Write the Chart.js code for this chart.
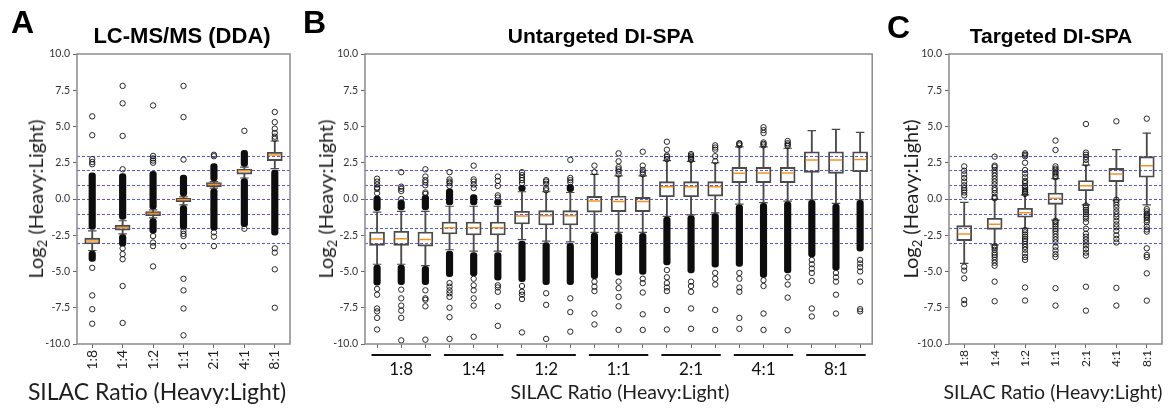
<!DOCTYPE html>
<html>
<head>
<meta charset="utf-8">
<script src="https://cdn.jsdelivr.net/npm/chart.js@4.4.1/dist/chart.umd.min.js"></script>
<style>
  body { margin:0; background:#fff; width:1175px; height:409px; position:relative; overflow:hidden; font-family: Lato, sans-serif; }
  canvas { position:absolute; top:0; }
  .txt { position:absolute; white-space:nowrap; line-height:1; }
  .letter { font: bold 32px "Liberation Sans", Arial, sans-serif; color:#000; }
  .title { font-family: "Liberation Sans", Arial, sans-serif; font-weight:bold; color:#000; transform: translateX(-50%); }
  .xtitle { transform: translateX(-50%); color:#1e1e1e; }
  .ytitle { transform: translate(-50%,-50%) rotate(-90deg); color:#1e1e1e; font-size:20px; }
  .ytitle sub { font-size:0.65em; vertical-align:-0.3em; line-height:0; }
</style>
</head>
<body>
<canvas id="chartA" width="300" height="409" style="left:0px"></canvas>
<canvas id="chartB" width="580" height="409" style="left:300px"></canvas>
<canvas id="chartC" width="295" height="409" style="left:880px"></canvas>

<div class="txt letter" style="left:11px;top:4px">A</div>
<div class="txt letter" style="left:303px;top:4px">B</div>
<div class="txt letter" style="left:887px;top:9px">C</div>

<div class="txt title" style="left:182px;top:25px;font-size:22px">LC-MS/MS (DDA)</div>
<div class="txt title" style="left:601px;top:25px;font-size:21px">Untargeted DI-SPA</div>
<div class="txt title" style="left:1051px;top:25px;font-size:21px">Targeted DI-SPA</div>

<div class="txt ytitle" style="left:35px;top:199px">Log<sub>2</sub> (Heavy:Light)</div>
<div class="txt ytitle" style="left:325px;top:199px">Log<sub>2</sub> (Heavy:Light)</div>
<div class="txt ytitle" style="left:910px;top:199px">Log<sub>2</sub> (Heavy:Light)</div>

<div class="txt xtitle" style="left:157px;top:380px;font-size:23px">SILAC Ratio (Heavy:Light)</div>
<div class="txt xtitle" style="left:620px;top:382px;font-size:19.5px">SILAC Ratio (Heavy:Light)</div>
<div class="txt xtitle" style="left:1053px;top:382px;font-size:19.5px">SILAC Ratio (Heavy:Light)</div>

<script>
// categories
const ratios = ['1:8', '1:4', '1:2', '1:1', '2:1', '4:1', '8:1'];
const replicates = ['a', 'b', 'c'];
const refLines = [3, 2, 1, 0, -1, -2, -3];

// A: LC-MS/MS (DDA)
const ddaQ1 = [-3.1, -2.15, -1.15, -0.18, 0.85, 1.72, 2.65];
const ddaMed = [-2.9, -1.98, -1.0, -0.05, 1.0, 1.95, 3.03];
const ddaQ3 = [-2.7, -1.8, -0.87, 0.05, 1.13, 2.05, 3.22];
const ddaWhiskLo = [-3.55, -2.4, -1.3, -0.4, 0.75, 1.45, 2.1];
const ddaWhiskHi = [-2.2, -1.5, -0.75, 0.15, 1.2, 2.2, 4.0];
const ddaDenseLo = [[-4.3, -3.6], [-3.25, -2.45], [-2.35, -1.35], [-2.1, -0.45], [-2.15, 0.7], [-1.9, 1.4], [-2.5, 2.0]];
const ddaDenseHi = [[-2.1, 1.8], [-1.4, 1.75], [-0.7, 1.9], [0.2, 1.65], [1.25, 2.45], [2.25, 3.35], null];
const ddaOutLo = [
  [-4.75, -6.65, -7.6, -8.6],
  [-3.4, -3.8, -4.15, -6.0, -8.55],
  [-2.55, -3.0, -3.25, -4.65],
  [-2.2, -2.4, -2.55, -3.25, -5.5, -6.3, -7.55, -9.4],
  [-2.3, -2.6, -3.25],
  [-2.05],
  [-3.4, -3.7, -4.85, -7.5]
];
const ddaOutHi = [
  [2.4, 2.55, 2.75, 4.4, 5.7],
  [2.05, 4.35, 6.6, 7.8],
  [2.5, 2.65, 2.8, 2.97, 6.45],
  [2.72, 5.65, 7.8],
  [2.95, 3.05],
  [4.7],
  [4.15, 4.3, 4.55, 4.85, 5.3, 6.0]
];

// B: Untargeted DI-SPA (3 replicates per ratio)
const untQ1 = [-3.2, -3.2, -3.25, -2.41, -2.48, -2.48, -1.72, -1.79, -1.79, -0.9, -0.87, -0.87, 0.16, 0.16, 0.2, 1.13, 1.13, 1.13, 1.84, 1.77, 1.88];
const untMed = [-2.76, -2.74, -2.8, -1.98, -1.98, -1.98, -1.17, -1.15, -1.15, -0.13, -0.18, -0.18, 0.85, 0.85, 0.85, 1.77, 1.8, 1.8, 2.69, 2.69, 2.73];
const untQ3 = [-2.28, -2.23, -2.28, -1.59, -1.59, -1.59, -0.85, -0.8, -0.8, 0.18, 0.21, 0.11, 1.2, 1.2, 1.2, 2.18, 2.18, 2.18, 3.26, 3.26, 3.26];
const untWhiskLo = [-4.5, -4.5, -4.6, -3.5, -3.6, -3.6, -2.8, -2.9, -2.95, -2.3, -2.3, -2.3, -1.2, -1.1, -0.95, -0.35, -0.25, -0.15, -0.05, -0.3, -0.05];
const untWhiskHi = [-0.9, -0.85, -0.85, -0.5, -0.5, -0.5, 0.5, 0.5, 0.45, 1.7, 1.6, 1.6, 2.65, 2.6, 2.5, 3.6, 3.6, 3.5, 4.71, 4.8, 4.6];
const untDenseLo = [[-5.95, -4.55], [-5.9, -4.55], [-5.9, -4.65], [-5.35, -3.6], [-5.3, -3.7], [-5.6, -3.7],
  [-5.7, -2.9], [-5.9, -3.0], [-5.9, -3.05], [-5.5, -2.35], [-5.25, -2.37], [-5.2, -2.37],
  [-4.55, -1.25], [-5.1, -1.15], [-4.7, -1.0], [-4.65, -0.4], [-5.4, -0.3], [-5.1, -0.2],
  [-4.0, -0.1], [-4.9, -0.35], [-3.6, -0.1]];
const untDenseHi = [[-0.8, 0.2], [-0.75, -0.1], [-0.75, 0.25], [-0.4, 0.7], [-0.4, 0.3], [-0.4, 0.0],
  [0.55, 0.95], null, [0.5, 1.0], null, null, null, null, null, null, null, null, null, null, null, null];
const untOutLo = [
  [-6.2, -6.6, -7.55, -7.75, -8.2, -9.0],
  [-6.25, -6.85, -7.35, -7.7, -8.2, -9.75],
  [-6.3, -6.85, -6.95, -7.4, -9.7],
  [-5.8, -6.05, -6.3, -6.5, -6.75, -7.5, -8.15, -9.65],
  [-5.5, -5.95, -6.3, -6.85, -7.35, -9.5],
  [-5.95, -6.1, -6.4, -7.4, -8.75],
  [-6.0, -6.4, -6.6, -6.9, -9.2],
  [-6.5, -7.3, -9.65],
  [-6.85, -7.8, -9.15],
  [-5.7, -6.05, -6.35, -7.9, -8.65],
  [-5.7, -6.15, -6.75, -7.4, -9.03],
  [-5.5, -5.8, -6.45, -7.95, -9.03],
  [-4.9, -5.4, -5.8, -6.1, -6.35, -7.65, -9.0],
  [-5.7, -6.0, -6.4, -7.55, -8.95],
  [-5.1, -5.5, -5.9, -7.65, -9.03],
  [-5.1, -5.5, -6.1, -6.4, -8.2, -8.95],
  [-5.6, -6.0, -7.9, -9.03],
  [-5.4, -5.9, -6.8, -9.05],
  [-4.2, -4.5, -4.8, -5.1, -5.65, -7.55, -8.1],
  [-5.1, -5.4, -5.7, -6.6, -7.9],
  [-4.2, -4.45, -4.7, -5.0, -5.7, -7.6, -7.75]
];
const untOutHi = [
  [0.4, 0.7, 0.8, 1.0, 1.2, 1.4],
  [0.0, 0.55, 0.7, 0.85, 1.85],
  [0.35, 0.45, 0.95, 1.15, 1.3, 1.55, 2.05],
  [0.9, 1.1, 1.2, 1.35, 1.85],
  [0.75, 1.0, 1.2, 1.35, 2.3],
  [0.1, 0.25, 0.9, 1.25, 1.55],
  [1.1, 1.3, 1.45, 1.65, 1.85],
  [0.6, 0.75, 1.05, 1.2, 1.3],
  [1.15, 1.3, 1.45, 2.7],
  [1.85, 2.3],
  [1.7, 1.9, 2.05, 2.2, 2.6, 3.15],
  [1.7, 1.85, 2.0, 2.3, 3.26],
  [2.75, 2.9, 3.0, 3.4, 3.95],
  [2.7, 2.8, 2.9, 3.0, 3.1],
  [2.6, 2.95, 3.4, 3.55, 3.7],
  [3.7, 3.8, 3.85],
  [3.7, 3.8, 3.9, 4.55, 4.75, 4.95],
  [3.65, 3.75, 3.85, 4.0],
  [], [], []
];

// C: Targeted DI-SPA
const tgtQ1 = [-2.87, -2.09, -1.26, -0.37, 0.57, 1.2, 1.5];
const tgtMed = [-2.41, -1.74, -0.94, 0.05, 0.92, 1.72, 2.3];
const tgtQ3 = [-1.84, -1.33, -0.64, 0.41, 1.27, 2.11, 2.92];
const tgtWhiskLo = [-4.44, -3.17, -2.02, -1.45, -0.41, -0.07, -0.41];
const tgtWhiskHi = [-0.23, -0.02, 0.28, 1.4, 2.34, 3.4, 4.55];
const tgtOutLo = [
  [-4.67, -4.94, -5.47, -6.97, -7.24],
  [-3.25, -3.35, -3.5, -3.7, -3.85, -4.0, -4.2, -4.4, -4.6, -5.7, -7.05],
  [-2.15, -2.3, -2.45, -2.6, -2.75, -2.9, -3.1, -3.3, -3.5, -3.75, -4.0, -4.2, -6.1, -7.0],
  [-1.5, -1.6, -1.75, -1.9, -2.05, -2.2, -2.4, -2.6, -2.8, -3.0, -3.3, -3.55, -3.8, -4.0, -6.15, -7.35],
  [-0.45, -0.6, -0.75, -0.9, -1.05, -1.2, -1.35, -1.6, -2.05, -2.4, -2.6, -2.8, -3.0, -3.2, -3.45, -3.7, -3.9, -6.05, -7.7],
  [-0.05, -0.2, -0.4, -0.6, -0.85, -1.05, -1.25, -1.5, -1.75, -1.95, -2.2, -2.5, -2.75, -3.0, -6.13, -7.35],
  [-0.7, -0.85, -1.0, -1.1, -1.2, -1.3, -1.45, -1.6, -1.9, -2.1, -2.25, -3.4, -3.86, -4.0, -5.13, -7.01]
];
const tgtOutHi = [
  [0.25, 0.45, 0.6, 0.75, 0.95, 1.2, 1.45, 1.7, 1.95, 2.25],
  [0.05, 0.15, 0.4, 0.6, 0.75, 1.0, 1.2, 1.4, 1.6, 1.8, 2.0, 2.2, 2.3, 2.92],
  [0.35, 0.45, 0.55, 0.65, 0.8, 0.9, 1.1, 1.25, 1.5, 1.75, 2.0, 2.5, 2.95, 3.05, 3.15],
  [1.5, 1.6, 1.75, 1.85, 2.0, 2.1, 2.25, 3.38, 4.03],
  [2.45, 2.7, 2.9, 3.05, 3.2, 5.17],
  [5.36],
  [5.54]
];

const lineGrey = '#4a4a4a';
const medianOrange = '#f7921e';

function boxDatasets(labels, s, boxW) {
  const pts = (arr) => labels.flatMap((l, i) => arr[i].map(v => ({ x: l, y: v })));
  const sets = [
    { type: 'bar', data: labels.map((l, i) => [s.whiskLo[i], s.q1[i]]), barThickness: 1.2,
      backgroundColor: lineGrey, grouped: false, order: 6 },
    { type: 'bar', data: labels.map((l, i) => [s.q3[i], s.whiskHi[i]]), barThickness: 1.2,
      backgroundColor: lineGrey, grouped: false, order: 6 },
    { type: 'bar', data: labels.map((l, i) => [s.q1[i], s.q3[i]]), barThickness: boxW,
      backgroundColor: 'rgba(0,0,0,0)', borderColor: lineGrey, borderWidth: 1.2,
      borderSkipped: false, grouped: false, order: 5 },
    { type: 'scatter', data: labels.flatMap((l, i) => [{ x: l, y: s.whiskLo[i] }, { x: l, y: s.whiskHi[i] }]),
      showLine: false, pointStyle: 'line', pointRadius: boxW / 4 + 0.5, pointBorderColor: lineGrey,
      pointBorderWidth: 1.2, order: 4 },
    { type: 'scatter', data: labels.map((l, i) => ({ x: l, y: s.med[i] })), showLine: false,
      pointStyle: 'line', pointRadius: boxW / 2 - 1.2, pointBorderColor: medianOrange, pointBorderWidth: 1.5, order: 3 }
  ];
  [s.denseLo, s.denseHi].forEach(d => {
    if (!d) return;
    sets.push({ type: 'bar', data: d, barThickness: 6.5, backgroundColor: '#0d0d0d',
      borderRadius: 3, borderSkipped: false, grouped: false, order: 2 });
  });
  sets.push({ type: 'scatter', data: pts(s.outLo).concat(pts(s.outHi)), showLine: false, pointStyle: 'circle',
    pointRadius: 2.7, pointBorderWidth: 0.9, pointBorderColor: '#111',
    pointBackgroundColor: 'rgba(0,0,0,0)', order: 1 });
  return sets;
}

const panelDecor = {
  id: 'panelDecor',
  beforeDatasetsDraw(chart) {
    const { ctx, chartArea: a, scales: { y } } = chart;
    ctx.save();
    ctx.strokeStyle = '#5a5ad2';
    ctx.lineWidth = 1;
    ctx.setLineDash([3, 2]);
    refLines.forEach(v => {
      const py = Math.round(y.getPixelForValue(v)) + 0.5;
      ctx.beginPath(); ctx.moveTo(a.left, py); ctx.lineTo(a.right, py); ctx.stroke();
    });
    ctx.restore();
  },
  afterDatasetsDraw(chart) {
    const { ctx, chartArea: a } = chart;
    ctx.save();
    ctx.strokeStyle = '#8a8a8a';
    ctx.lineWidth = 1.5;
    ctx.setLineDash([]);
    ctx.strokeRect(a.left, a.top, a.right - a.left, a.bottom - a.top);
    ctx.restore();
  }
};

// group underlines for panel B
const groupLines = {
  id: 'groupLines',
  afterDraw(chart) {
    const x2 = chart.scales.x2;
    if (!x2) return;
    const ctx = chart.ctx;
    const half = (x2.right - x2.left) / ratios.length * 0.41;
    ctx.save();
    ctx.strokeStyle = '#111';
    ctx.lineWidth = 2;
    ratios.forEach((r, i) => {
      const cx = x2.getPixelForValue(i);
      ctx.beginPath(); ctx.moveTo(cx - half, 355); ctx.lineTo(cx + half, 355); ctx.stroke();
    });
    ctx.restore();
  }
};

function yAxis(width) {
  return {
    min: -10, max: 10,
    afterFit: s => { s.width = width; },
    ticks: { stepSize: 2.5, callback: v => v.toFixed(1), font: { family: 'Lato', size: 10.5 }, color: '#333', padding: 3 },
    grid: { drawOnChartArea: false, tickLength: 4, color: '#666' },
    border: { display: false }
  };
}

function xAxis(height, fontSize, showLabels) {
  return {
    type: 'category', offset: true,
    afterFit: s => { s.height = height; },
    grid: { offset: false, drawOnChartArea: false, tickLength: 4, color: '#666' },
    border: { display: false },
    ticks: { display: showLabels, minRotation: 90, maxRotation: 90, autoSkip: false,
      font: { family: 'Lato', size: fontSize }, color: '#222', padding: 2 }
  };
}

function baseOptions(scales, padRight) {
  return {
    responsive: false, animation: false, devicePixelRatio: 1, events: [],
    layout: { padding: { top: 54, right: padRight, left: 0, bottom: 0 } },
    plugins: { legend: { display: false }, tooltip: { enabled: false } },
    scales: scales
  };
}

// Panel A
new Chart(document.getElementById('chartA'), {
  type: 'bar',
  data: { labels: ratios, datasets: boxDatasets(ratios, {
    q1: ddaQ1, med: ddaMed, q3: ddaQ3, whiskLo: ddaWhiskLo, whiskHi: ddaWhiskHi,
    denseLo: ddaDenseLo, denseHi: ddaDenseHi, outLo: ddaOutLo, outHi: ddaOutHi }, 15) },
  options: baseOptions({ x: xAxis(65, 14, true), y: yAxis(77) }, 10),
  plugins: [panelDecor]
});

// Panel B
const untLabels = ratios.flatMap(r => replicates.map(rep => r + ' ' + rep));
const bX2 = {
  type: 'category', labels: ratios, offset: true, position: 'bottom', weight: 1,
  afterFit: s => { s.height = 55; },
  grid: { display: false, drawTicks: false }, border: { display: false },
  ticks: { font: { family: 'Lato', size: 17 }, color: '#111', padding: 5, maxRotation: 0, autoSkip: false }
};
new Chart(document.getElementById('chartB'), {
  type: 'bar',
  data: { labels: untLabels, datasets: boxDatasets(untLabels, {
    q1: untQ1, med: untMed, q3: untQ3, whiskLo: untWhiskLo, whiskHi: untWhiskHi,
    denseLo: untDenseLo, denseHi: untDenseHi, outLo: untOutLo, outHi: untOutHi }, 15) },
  options: baseOptions({ x: xAxis(10, 12, false), x2: bX2, y: yAxis(65) }, 6),
  plugins: [panelDecor, groupLines]
});

// Panel C
new Chart(document.getElementById('chartC'), {
  type: 'bar',
  data: { labels: ratios, datasets: boxDatasets(ratios, {
    q1: tgtQ1, med: tgtMed, q3: tgtQ3, whiskLo: tgtWhiskLo, whiskHi: tgtWhiskHi,
    denseLo: null, denseHi: null, outLo: tgtOutLo, outHi: tgtOutHi }, 15) },
  options: baseOptions({ x: xAxis(65, 12, true), y: yAxis(69) }, 13),
  plugins: [panelDecor]
});
</script>
</body>
</html>
